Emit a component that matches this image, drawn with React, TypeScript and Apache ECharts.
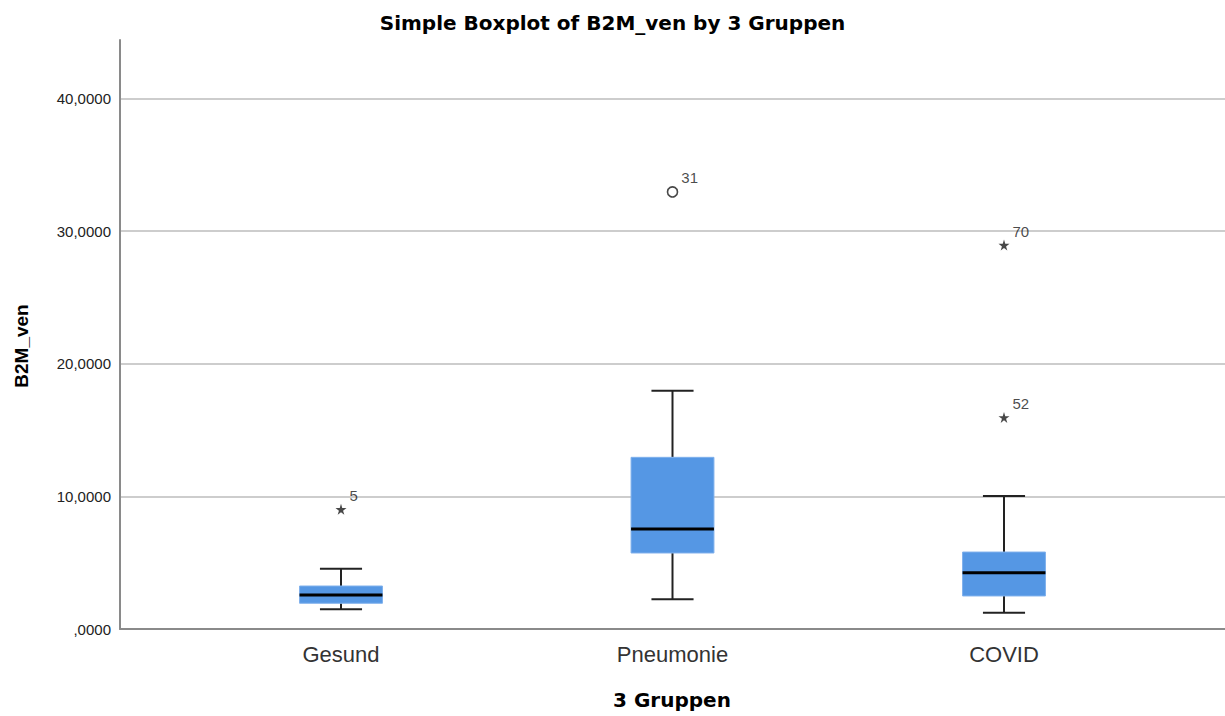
import React, { useEffect, useRef } from "react";
import * as echarts from "echarts";

const categories = ["Gesund", "Pneumonie", "COVID"];
// [min, Q1, median, Q3, max]
const boxStats = [
  [1.48, 1.94, 2.56, 3.24, 4.54],
  [2.24, 5.73, 7.54, 12.94, 17.96],
  [1.23, 2.49, 4.24, 5.8, 10.02],
];
// outliers
const outlierCat = [0, 1, 2, 2];
const outlierVal = [9.02, 32.95, 28.94, 15.95];
const outlierLabel = ["5", "31", "70", "52"];
const outlierKind = ["extreme", "outlier", "extreme", "extreme"];
const yTicks = [0, 10, 20, 30, 40];

const STAR =
  "path://M50,0 L61,35 L98,35 L68,57 L79,91 L50,70 L21,91 L32,57 L2,35 L39,35 Z";
const FONT = "Liberation Sans, Arial, sans-serif";
const BOLD_FONT = "DejaVu Sans, Liberation Sans, sans-serif";

export default function App() {
  const ref = useRef<HTMLDivElement>(null);
  useEffect(() => {
    if (!ref.current) return;
    const chart = echarts.init(ref.current, undefined, { renderer: "svg" });
    const boxData = boxStats.map((s, i) => [i, ...s]);
    const outData = outlierVal.map((v, i) => ({
      value: [outlierCat[i], v],
      name: outlierLabel[i],
      symbol: outlierKind[i] === "extreme" ? STAR : "circle",
      symbolSize: outlierKind[i] === "extreme" ? 11 : 10,
      itemStyle:
        outlierKind[i] === "extreme"
          ? { color: "#1a1a1a", borderWidth: 0 }
          : { color: "#fff", borderColor: "#1a1a1a", borderWidth: 1.6 },
    }));
    chart.setOption({
      animation: false,
      textStyle: { fontFamily: FONT },
      title: {
        text: "Simple Boxplot of B2M_ven by 3 Gruppen",
        left: "center",
        top: 8,
        textStyle: { fontFamily: BOLD_FONT, fontSize: 20, fontWeight: "bold", color: "#000" },
      },
      graphic: [
        {
          type: "text",
          x: 21,
          y: 346,
          rotation: Math.PI / 2,
          style: {
            text: "B2M_ven",
            fontFamily: FONT,
            fontSize: 19,
            fontWeight: "bold",
            fill: "#000",
            align: "center",
            verticalAlign: "middle",
          },
        },
        {
          type: "text",
          x: 672,
          y: 700,
          style: {
            text: "3 Gruppen",
            fontFamily: BOLD_FONT,
            fontSize: 20,
            fontWeight: "bold",
            fill: "#000",
            align: "center",
            verticalAlign: "middle",
          },
        },
      ],
      grid: { left: 120, right: 0, top: 40, bottom: 87 },
      xAxis: {
        type: "value",
        min: -2 / 3,
        max: 8 / 3,
        axisLine: { show: true, onZero: false, lineStyle: { color: "#8a8a8a", width: 2 } },
        axisTick: { show: false },
        splitLine: { show: false },
        axisLabel: {
          customValues: [0, 1, 2],
          formatter: (v: number) => categories[Math.round(v)] ?? "",
          fontFamily: FONT,
          fontSize: 22,
          color: "#333",
          margin: 14,
        },
      },
      yAxis: {
        type: "value",
        min: 0,
        max: 44.4,
        interval: 10,
        axisLine: { show: true, onZero: false, lineStyle: { color: "#8a8a8a", width: 2 } },
        axisTick: { show: false },
        splitLine: {
          show: true,
          showMaxLine: false,
          showMinLine: false,
          lineStyle: { color: "#cdcdcd", width: 2 },
        },
        axisLabel: {
          showMaxLabel: false,
          fontFamily: FONT,
          fontSize: 15,
          color: "#222",
          margin: 9,
          padding: [7, 0, 0, 0],
          formatter: (v: number) =>
            yTicks.indexOf(v) >= 0
              ? v === 0
                ? ",0000"
                : v.toFixed(4).replace(".", ",")
              : "",
        },
      },
      series: [
        {
          type: "custom",
          data: boxData,
          encode: { x: 0, y: [1, 2, 3, 4, 5] },
          renderItem: (params: any, api: any) => {
            const x = api.value(0);
            const pMin = api.coord([x, api.value(1)]);
            const pQ1 = api.coord([x, api.value(2)]);
            const pMed = api.coord([x, api.value(3)]);
            const pQ3 = api.coord([x, api.value(4)]);
            const pMax = api.coord([x, api.value(5)]);
            const boxW = api.size([0.25, 0])[0];
            const capW = api.size([0.127, 0])[0];
            const cx = pMed[0];
            const lineStyle = { stroke: "#222", lineWidth: 2 };
            return {
              type: "group",
              children: [
                {
                  type: "line",
                  shape: { x1: cx, y1: pMax[1], x2: cx, y2: pQ3[1] },
                  style: lineStyle,
                },
                {
                  type: "line",
                  shape: { x1: cx, y1: pQ1[1], x2: cx, y2: pMin[1] },
                  style: lineStyle,
                },
                {
                  type: "line",
                  shape: { x1: cx - capW / 2, y1: pMax[1], x2: cx + capW / 2, y2: pMax[1] },
                  style: lineStyle,
                },
                {
                  type: "line",
                  shape: { x1: cx - capW / 2, y1: pMin[1], x2: cx + capW / 2, y2: pMin[1] },
                  style: lineStyle,
                },
                {
                  type: "rect",
                  shape: {
                    x: cx - boxW / 2,
                    y: pQ3[1],
                    width: boxW,
                    height: pQ1[1] - pQ3[1],
                  },
                  style: { fill: "#5597e4", stroke: "#7fb0ec", lineWidth: 1 },
                },
                {
                  type: "line",
                  shape: { x1: cx - boxW / 2, y1: pMed[1], x2: cx + boxW / 2, y2: pMed[1] },
                  style: { stroke: "#000", lineWidth: 3 },
                },
              ],
            };
          },
          z: 3,
        },
        {
          type: "scatter",
          data: outData,
          z: 4,
          label: {
            show: true,
            position: "right",
            formatter: (p: any) => p.name,
            offset: [-2, -14],
            fontFamily: FONT,
            fontSize: 15,
            color: "#1a1a1a",
          },
        },
      ],
    });
    return () => chart.dispose();
  }, []);
  return (
    <div
      ref={ref}
      style={{ position: "absolute", left: 0, top: 0, width: 1225, height: 716, background: "#fff" }}
    />
  );
}
